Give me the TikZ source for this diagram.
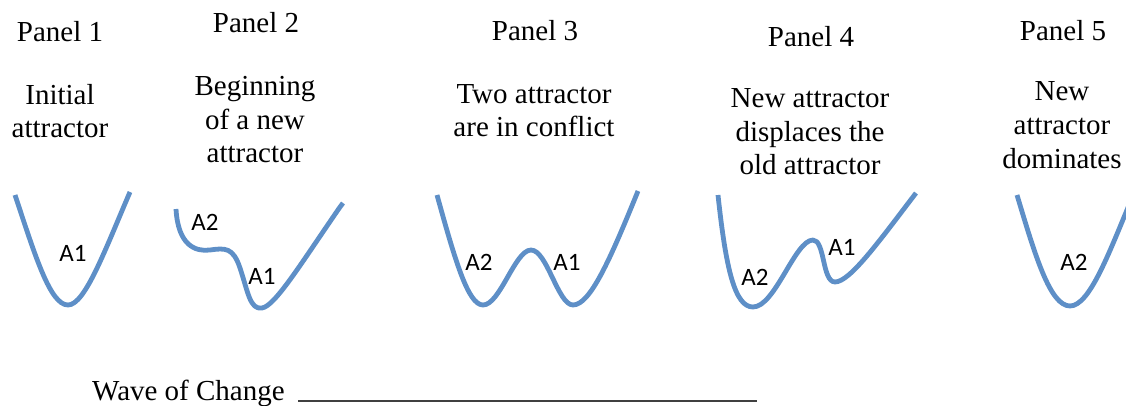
\documentclass[tikz,border=0pt]{standalone}
\usepackage{fontspec}
\setmainfont{Liberation Serif}
\newfontfamily\lblfont{Carlito}
\definecolor{curveblue}{RGB}{94,143,199}
\begin{document}
\begin{tikzpicture}[x=1pt,y=-1pt,
  title/.style={font=\fontsize{29}{33}\selectfont, anchor=base, inner sep=0pt, align=center},
  desc/.style={font=\fontsize{29}{33.5}\selectfont, anchor=base, inner sep=0pt, align=center},
  lbl/.style={font=\lblfont\fontsize{25}{27}\selectfont, inner sep=0pt},
  well/.style={draw=curveblue, line width=4.8pt, line join=round}]
\useasboundingbox (0,0) rectangle (1126,406);
\clip (0,0) rectangle (1126,406);
% titles
\node[title] (t1) at (60,42) {Panel 1};
\node[title] (t2) at (256,33) {Panel 2};
\node[title] (t3) at (535,41) {Panel 3};
\node[title] (t4) at (811,47) {Panel 4};
\node[title] (t5) at (1063,41) {Panel 5};
% descriptions (anchor = baseline of last line)
\node[desc] (d1) at (60,138) {Initial\\attractor};
\node[desc] (d2) at (255,163) {Beginning\\of a new\\attractor};
\node[desc] (d3) at (534,137) {Two attractor\\are in conflict};
\node[desc] (d4) at (810,175) {New attractor\\displaces the\\old attractor};
\node[desc] (d5) at (1062,168) {New\\attractor\\dominates};
% curves
\draw[well] (15,195) .. controls (35,255) and (50,305) .. (68,305) .. controls (85,305) and (105,250) .. (130,192);
\draw[well] (176,209) .. controls (178,245) and (195,252) .. (210,250) .. controls (225,248) and (233,247) .. (240,268) .. controls (248,292) and (250,310) .. (262,308) .. controls (275,306) and (300,265) .. (340,207) -- (343,203);
\draw[well] (437,195) .. controls (455,260) and (468,305) .. (483,305) .. controls (500,305) and (515,250) .. (531,250) .. controls (547,250) and (558,305) .. (573,305) .. controls (590,305) and (610,260) .. (638,191);
\draw[well] (718,195) .. controls (726,270) and (735,307) .. (753,307) .. controls (775,307) and (795,240) .. (813,240) .. controls (825,240) and (822,282) .. (835,282) .. controls (850,282) and (880,240) .. (916,193);
\draw[well] (1017,195) .. controls (1035,255) and (1050,306) .. (1070,306) .. controls (1090,306) and (1110,250) .. (1132,198);
% labels
\node[lbl] (a11) at (73,253) {A1};
\node[lbl] (a22) at (205,222) {A2};
\node[lbl] (a12) at (262,276) {A1};
\node[lbl] (a23) at (479,262) {A2};
\node[lbl] (a13) at (567,262) {A1};
\node[lbl] (a24) at (755,277) {A2};
\node[lbl] (a14) at (842,247) {A1};
\node[lbl] (a25) at (1074,262) {A2};
% wave of change
\node[font=\fontsize{29}{33}\selectfont, anchor=base west, inner sep=0pt] (w) at (92,400) {Wave of Change};
\coordinate (u1) at (298,401);
\coordinate (u2) at (757,401);
\draw[line width=1.2pt, black!75] (u1) -- (u2);
\end{tikzpicture}
\end{document}
